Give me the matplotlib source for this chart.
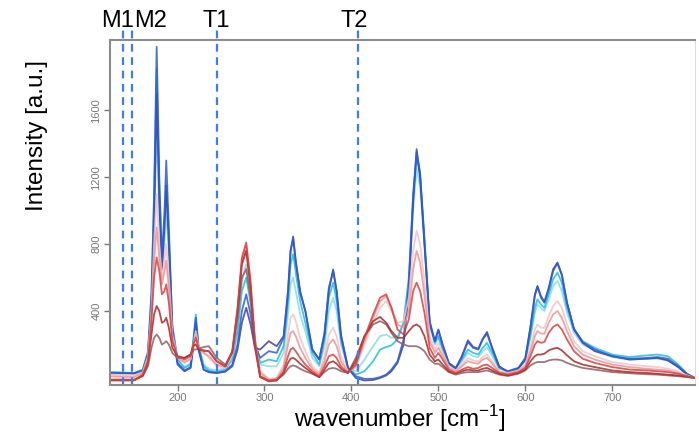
import numpy as np
import matplotlib
matplotlib.use("Agg")
import matplotlib.pyplot as plt

plt.rcParams['font.family'] = ['Liberation Sans', 'DejaVu Sans']

# wavenumber grid (cm-1) shared by all spectra
wn = [122, 150, 160, 166, 170, 173, 176, 179, 182, 185,
      187, 190, 194, 200, 208, 215, 218, 221, 224, 230,
      236, 245, 255, 263, 269, 274, 279, 284, 289, 295,
      305, 314, 322, 327, 330, 333, 336, 341, 347, 355,
      363, 369, 374, 379, 383, 388, 396, 405, 415, 425,
      433, 440, 446, 453, 460, 466, 471, 475, 479, 484,
      490, 496, 500, 505, 512, 520, 527, 534, 540, 546,
      551, 556, 562, 570, 580, 592, 600, 606, 611, 614,
      618, 622, 627, 632, 637, 642, 648, 656, 666, 680,
      700, 720, 740, 752, 764, 776, 786, 795]

navy = [28, 26, 40, 130, 420, 900, 1700, 1050, 650, 900,
        1150, 800, 280, 80, 40, 60, 180, 330, 170, 50,
        35, 30, 38, 70, 170, 330, 420, 320, 180, 170,
        220, 190, 250, 520, 760, 846, 700, 520, 400, 170,
        110, 260, 520, 648, 520, 260, 60, 0, -15, -12,
        0, 15, 40, 90, 200, 520, 1050, 1368, 1200, 800,
        330, 220, 290, 200, 90, 55, 130, 225, 185, 175,
        235, 275, 180, 70, 35, 55, 110, 310, 500, 550,
        490, 455, 540, 650, 690, 620, 450, 290, 210, 160,
        130, 110, 115, 120, 105, 65, 20, 0]

blue = [30, 28, 45, 150, 500, 1100, 1980, 1200, 700, 1000,
        1300, 900, 300, 90, 45, 65, 200, 360, 180, 50,
        35, 30, 40, 80, 200, 400, 500, 380, 200, 120,
        160, 150, 240, 500, 760, 830, 690, 510, 400, 170,
        110, 270, 540, 640, 520, 250, 60, 10, -5, -5,
        5, 20, 50, 100, 230, 560, 1100, 1350, 1230, 820,
        340, 220, 285, 195, 90, 60, 125, 215, 180, 170,
        230, 265, 175, 65, 40, 60, 120, 300, 490, 545,
        480, 450, 530, 640, 685, 615, 450, 295, 215, 170,
        130, 115, 120, 125, 115, 70, 25, 0]

cyan = [35, 30, 50, 160, 520, 1050, 1850, 1150, 720, 950,
        1150, 850, 320, 110, 60, 80, 220, 380, 200, 70,
        45, 35, 50, 110, 280, 520, 600, 450, 220, 90,
        110, 100, 190, 450, 680, 740, 630, 460, 330, 150,
        80, 230, 480, 570, 460, 230, 60, 20, 40, 100,
        170, 185, 195, 230, 330, 600, 1080, 1320, 1210, 840,
        330, 210, 250, 170, 80, 60, 110, 170, 150, 140,
        180, 210, 150, 60, 40, 60, 110, 260, 420, 470,
        440, 420, 500, 590, 630, 570, 420, 290, 220, 180,
        140, 125, 135, 140, 130, 80, 25, 0]

light_cyan = [35, 30, 50, 150, 450, 900, 1500, 950, 650, 800,
              1000, 750, 300, 110, 65, 90, 210, 330, 200, 80,
              55, 45, 60, 130, 320, 580, 680, 500, 240, 80,
              70, 70, 150, 380, 560, 600, 520, 380, 280, 120,
              70, 190, 400, 480, 400, 200, 60, 40, 110, 190,
              250, 260, 240, 250, 330, 580, 1000, 1250, 1140, 800,
              310, 200, 240, 160, 80, 55, 100, 150, 130, 125,
              160, 185, 130, 55, 40, 55, 100, 240, 390, 440,
              420, 400, 470, 550, 580, 520, 390, 270, 200, 165,
              125, 110, 115, 115, 105, 65, 20, 0]

pale_pink = [20, 15, 35, 130, 400, 800, 1100, 800, 600, 700,
             800, 600, 260, 120, 90, 110, 200, 280, 190, 150,
             120, 70, 60, 140, 380, 680, 760, 540, 220, 40,
             -5, 0, 80, 260, 360, 380, 340, 240, 160, 70,
             30, 130, 260, 300, 250, 130, 40, 60, 200, 330,
             420, 460, 400, 330, 340, 480, 760, 880, 800, 580,
             250, 170, 210, 150, 70, 45, 80, 120, 105, 100,
             125, 140, 100, 40, 30, 45, 80, 180, 290, 320,
             300, 300, 370, 430, 460, 420, 320, 220, 160, 130,
             95, 80, 70, 65, 55, 40, 15, 0]

pink = [10, 5, 30, 120, 380, 700, 900, 720, 560, 640,
        700, 540, 240, 120, 95, 115, 190, 250, 180, 150,
        130, 80, 65, 150, 400, 700, 790, 560, 220, 30,
        -10, -5, 60, 200, 270, 280, 250, 180, 120, 55,
        20, 100, 200, 230, 190, 100, 35, 70, 220, 360,
        460, 490, 420, 320, 300, 400, 650, 760, 690, 500,
        220, 150, 180, 130, 60, 40, 70, 100, 90, 85,
        110, 120, 85, 35, 25, 40, 70, 160, 250, 280,
        265, 265, 330, 380, 400, 360, 280, 190, 140, 110,
        80, 65, 55, 50, 45, 30, 12, 0]

red = [-10, -12, 20, 100, 340, 600, 720, 640, 500, 520,
       560, 450, 220, 130, 110, 130, 200, 240, 180, 160,
       160, 100, 70, 160, 420, 720, 810, 580, 220, 10,
       -20, -15, 40, 130, 170, 180, 160, 120, 80, 40,
       10, 70, 130, 140, 120, 70, 30, 80, 240, 380,
       480, 500, 420, 290, 260, 350, 520, 570, 520, 390,
       180, 120, 150, 110, 50, 30, 50, 65, 55, 60,
       75, 80, 60, 30, 20, 35, 60, 130, 200, 220,
       210, 215, 270, 305, 320, 290, 230, 160, 115, 90,
       65, 50, 45, 40, 35, 25, 10, 0]

dark_red = [-15, -15, 15, 90, 260, 380, 430, 400, 330, 340,
            360, 300, 180, 130, 120, 140, 190, 200, 170, 165,
            160, 100, 70, 160, 400, 680, 760, 540, 200, 5,
            -20, -15, 30, 90, 115, 120, 110, 85, 60, 30,
            5, 50, 90, 100, 85, 55, 30, 100, 250, 340,
            365, 330, 280, 240, 240, 280, 310, 320, 305, 250,
            140, 100, 110, 80, 40, 25, 40, 50, 45, 45,
            55, 60, 45, 25, 15, 30, 50, 100, 130, 140,
            140, 145, 165, 175, 180, 165, 135, 100, 80, 65,
            45, 35, 30, 25, 20, 15, 8, 0]

grey_brown = [-10, -10, 10, 70, 180, 240, 260, 240, 200, 210,
              220, 200, 150, 120, 120, 140, 170, 170, 175, 185,
              190, 120, 80, 150, 360, 600, 650, 480, 180, 10,
              -15, -10, 20, 55, 70, 75, 70, 55, 40, 25,
              5, 35, 55, 60, 55, 40, 30, 120, 250, 320,
              340, 320, 270, 220, 200, 190, 190, 190, 180, 160,
              110, 85, 85, 65, 35, 20, 30, 35, 35, 35,
              40, 45, 35, 20, 12, 25, 45, 75, 90, 95,
              95, 95, 105, 110, 110, 105, 90, 75, 60, 50,
              35, 28, 22, 20, 15, 10, 5, 0]

# blues first (dark blue on top of them), reds last so they sit on top where they overlap
spectra = [light_cyan, cyan, navy, blue, pale_pink, pink, grey_brown, dark_red, red]
colors = ['#86dbe8', '#1ebedd', '#3c3f9e', '#2f5bd0', '#f3c3c3',
          '#ec9494', '#8a6262', '#a52a2a', '#d64040']

marker_names = ['M1', 'M2', 'T1', 'T2']
marker_pos = [137, 148, 245, 407]
label_x = [131, 169, 244, 403]

fig = plt.figure(figsize=(6.99, 4.36), dpi=100)
ax = fig.add_axes([0.157, 0.117, 0.837, 0.791])

for s, c in zip(spectra, colors):
    ax.plot(wn, s, color=c, lw=1.3, alpha=0.85, solid_joinstyle='round')

ax.set_xlim(122, 795)
ax.set_ylim(-42, 2020)
ax.set_xticks([200, 300, 400, 500, 600, 700])
ax.set_yticks([400, 800, 1200, 1600])
ax.tick_params(colors='#777777', labelsize=8, length=4, width=1, pad=2)
ax.tick_params(axis='y', labelrotation=90)
for lab in ax.get_yticklabels():
    lab.set_va('center')
for side in ['left', 'bottom', 'top']:
    ax.spines[side].set_color('#8c8c8c')
    ax.spines[side].set_linewidth(1.5)
ax.spines['right'].set_color('#dddddd')

trans = ax.get_xaxis_transform()
for name, p, lx in zip(marker_names, marker_pos, label_x):
    ax.plot([p, p], [0, 1.044], transform=trans, color='#3d7eea',
            lw=1.6, ls=(0, (3.5, 2.5)), clip_on=False)
    ax.text(lx, 1.038, name, transform=trans, ha='center', va='baseline',
            fontsize=17, color='black')

fig.text(0.053, 0.69, 'Intensity [a.u.]', rotation=90, ha='center',
         va='center', fontsize=17.5)
fig.text(0.572, 0.02, 'wavenumber [cm$^{\\mathregular{-1}}$]', ha='center',
         va='baseline', fontsize=17.5)

fig.savefig('out.png', dpi=100, facecolor='white')
